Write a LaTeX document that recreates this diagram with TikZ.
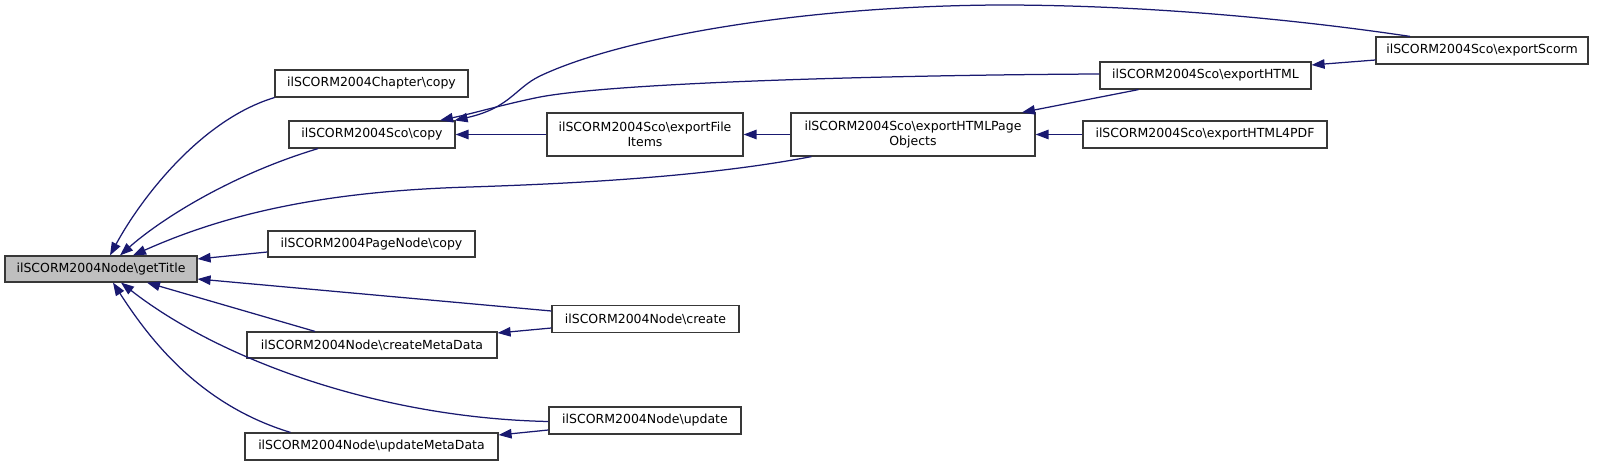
\documentclass[tikz,border=0pt]{standalone}
\usepackage{fontspec}
\setmainfont{DejaVu Sans}
\usetikzlibrary{arrows.meta}
\definecolor{edgec}{HTML}{191970}
\definecolor{boxc}{HTML}{383838}
\definecolor{hilite}{HTML}{BFBFBF}
\begin{document}
\begin{tikzpicture}[x=1pt,y=-1pt,
  fn/.style={draw=boxc, line width=1.2pt, fill=white, inner sep=0pt,
    font=\fontsize{12.5}{15}\selectfont, align=center, minimum height=27pt},
  call/.style={draw=edgec, line width=1.25pt, -{Triangle[length=13pt,width=9.5pt]}}]
\useasboundingbox (0,0) rectangle (1600,465);
% nodes
\node[fn, fill=hilite, minimum width=192pt, minimum height=26pt] (gt) at (101,269) {ilSCORM2004Node\textbackslash getTitle};
\node[fn, minimum width=193pt] (chap) at (371.5,83.5) {ilSCORM2004Chapter\textbackslash copy};
\node[fn, minimum width=166pt] (sco) at (372,134.5) {ilSCORM2004Sco\textbackslash copy};
\node[fn, minimum width=207pt, minimum height=26pt] (pn) at (371.5,244) {ilSCORM2004PageNode\textbackslash copy};
\node[fn, minimum width=250pt, minimum height=26pt] (cmd) at (372,345) {ilSCORM2004Node\textbackslash createMetaData};
\node[fn, minimum width=253pt] (umd) at (371.5,446.5) {ilSCORM2004Node\textbackslash updateMetaData};
\node[fn, minimum width=187pt] (cr) at (645.5,319) {ilSCORM2004Node\textbackslash create};
\node[fn, minimum width=192pt] (upd) at (645,420.5) {ilSCORM2004Node\textbackslash update};
\node[fn, minimum width=196pt, minimum height=43pt] (efi) at (645,134.5) {ilSCORM2004Sco\textbackslash exportFile\\Items};
\node[fn, minimum width=244pt, minimum height=43pt] (ehp) at (913,134.5) {ilSCORM2004Sco\textbackslash exportHTMLPage\\Objects};
\node[fn, minimum width=211pt] (ehtml) at (1205.5,75.5) {ilSCORM2004Sco\textbackslash exportHTML};
\node[fn, minimum width=244pt] (e4) at (1205,134.5) {ilSCORM2004Sco\textbackslash exportHTML4PDF};
\node[fn, minimum width=212pt] (escorm) at (1482,50.5) {ilSCORM2004Sco\textbackslash exportScorm};
% connectors
\draw[call] (chap.south west) .. controls (200,120) and (140,200) .. ([xshift=9pt]gt.north);
\draw[call] ([xshift=-54pt]sco.south) .. controls (230,175) and (160,220) .. ([xshift=19pt]gt.north);
\draw[call] ([xshift=21pt]ehp.south west) .. controls (700,178) and (560,184) .. (470,187)
  .. controls (330,191) and (230,212) .. ([xshift=32pt]gt.north);
\draw[call] ([yshift=-8pt]pn.west) -- ([yshift=10pt]gt.east);
\draw[call] ([yshift=8pt]cr.west) -- ([yshift=-10pt]gt.east);
\draw[call] ([xshift=-57pt]cmd.north) -- ([xshift=46pt]gt.south);
\draw[call] ([yshift=-1pt]upd.west) .. controls (380,418) and (220,360) .. ([xshift=20pt]gt.south);
\draw[call] ([xshift=-81pt]umd.north) .. controls (200,405) and (150,340) .. ([xshift=12pt]gt.south);
\draw[call] ([yshift=-9pt]cr.west) -- ([yshift=12pt]cmd.east);
\draw[call] ([yshift=-9.5pt]upd.west) -- ([yshift=11.5pt]umd.east);
\draw[call] (efi.west) -- (sco.east);
\draw[call] (ehp.west) -- (efi.east);
\draw[call] (e4.west) -- (ehp.east);
\draw[call] ([yshift=1.5pt]ehtml.west) .. controls (900,75) and (620,82) .. (540,97)
  .. controls (505,104) and (475,113) .. ([xshift=68pt]sco.north);
\draw[call] ([xshift=-72pt]escorm.north) .. controls (1300,20) and (1150,5) .. (1000,5)
  .. controls (800,6) and (620,38) .. (540,76)
  .. controls (515,88) and (510,108) .. ([xshift=-1pt]sco.north east);
\draw[call] ([yshift=-9.5pt]escorm.west) -- ([yshift=10.5pt]ehtml.east);
\draw[call] ([xshift=-67pt]ehtml.south) -- ([xshift=109pt]ehp.north);
\end{tikzpicture}
\end{document}
